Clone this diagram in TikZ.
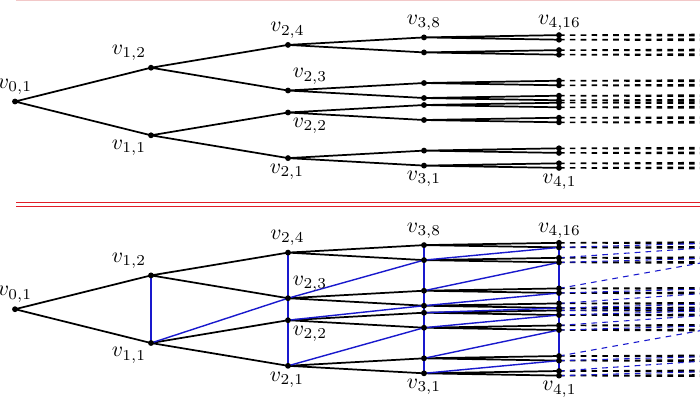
\documentclass[tikz,border=0pt]{standalone}
\usetikzlibrary{calc}
\definecolor{eblue}{RGB}{25,25,205}
\definecolor{ered}{RGB}{225,30,40}
\definecolor{epink}{RGB}{242,200,200}
\tikzset{
  edge/.style={black, line width=0.8pt},
  xedge/.style={eblue, line width=0.65pt},
  dedge/.style={black, line width=0.65pt, dash pattern=on 2.6pt off 2.4pt},
  dxedge/.style={eblue, line width=0.5pt, dash pattern=on 2.6pt off 2.4pt},
  dotn/.style={circle, fill=black, inner sep=0pt, minimum size=2.7pt},
  lbl/.style={inner sep=0pt},
  redline/.style={ered, line width=0.6pt},
}
\newcommand\mktree[2]{%
  \coordinate (#1-0-1) at (15,#2);
  \foreach \qa in {0,1} {
    \pgfmathsetmacro\ya{#2+(1-2*\qa)*33.8}
    \pgfmathtruncatemacro\ja{\qa+1}
    \coordinate (#1-1-\ja) at (151,\ya);
    \foreach \qb in {0,1} {
      \pgfmathsetmacro\yb{\ya+(1-2*\qb)*22.8}
      \pgfmathtruncatemacro\jb{2*\qa+\qb+1}
      \coordinate (#1-2-\jb) at (288,\yb);
      \foreach \qc in {0,1} {
        \pgfmathsetmacro\yc{\yb+(1-2*\qc)*7.5}
        \pgfmathtruncatemacro\jc{4*\qa+2*\qb+\qc+1}
        \coordinate (#1-3-\jc) at (424,\yc);
        \foreach \qd in {0,1} {
          \pgfmathsetmacro\yd{\yc+(1-2*\qd)*2.3}
          \pgfmathtruncatemacro\jd{8*\qa+4*\qb+2*\qc+\qd+1}
          \coordinate (#1-4-\jd) at (559,\yd);
          \foreach \qe in {0,1} {
            \pgfmathsetmacro\ye{\yd+(1-2*\qe)*0.7}
            \pgfmathtruncatemacro\je{2*\jd+\qe-1}
            \coordinate (#1-5-\je) at (700,\ye);
          }
        }
      }
    }
  }%
}
\newcommand\drawtreeedges[1]{%
  \foreach \k in {0,...,3} {
    \pgfmathtruncatemacro\nn{2^\k}
    \pgfmathtruncatemacro\kk{\k+1}
    \foreach \j in {1,...,\nn} {
      \pgfmathtruncatemacro\ca{2*\j-1}
      \pgfmathtruncatemacro\cb{2*\j}
      \draw[edge] (#1-\k-\j) -- (#1-\kk-\ca) (#1-\k-\j) -- (#1-\kk-\cb);
    }
  }
  \foreach \j in {1,...,16} {
    \pgfmathtruncatemacro\ca{2*\j-1}
    \pgfmathtruncatemacro\cb{2*\j}
    \draw[dedge] (#1-4-\j) -- (#1-5-\ca) (#1-4-\j) -- (#1-5-\cb);
  }%
}
\newcommand\drawtreedots[1]{%
  \foreach \k in {0,...,4} {
    \pgfmathtruncatemacro\nn{2^\k}
    \foreach \j in {1,...,\nn} {
      \node[dotn] (#1d-\k-\j) at (#1-\k-\j) {};
    }
  }%
}
\newcommand\drawtreelabels[1]{%
  \node[lbl] (#1l01) at ($(#1-0-1)+(0,-15)$) {$v_{0,1}$};
  \node[lbl] (#1l12) at ($(#1-1-2)+(-22,-14.7)$) {$v_{1,2}$};
  \node[lbl] (#1l11) at ($(#1-1-1)+(-22,12.2)$) {$v_{1,1}$};
  \node[lbl] (#1l24) at ($(#1-2-4)+(-0.5,-14.5)$) {$v_{2,4}$};
  \node[lbl] (#1l23) at ($(#1-2-3)+(22,-14.2)$) {$v_{2,3}$};
  \node[lbl] (#1l22) at ($(#1-2-2)+(22,13.5)$) {$v_{2,2}$};
  \node[lbl] (#1l21) at ($(#1-2-1)+(-1,13.7)$) {$v_{2,1}$};
  \node[lbl] (#1l38) at ($(#1-3-8)+(0,-14.5)$) {$v_{3,8}$};
  \node[lbl] (#1l31) at ($(#1-3-1)+(0,13.2)$) {$v_{3,1}$};
  \node[lbl] (#1l416) at ($(#1-4-16)+(0.5,-12)$) {$v_{4,16}$};
  \node[lbl] (#1l41) at ($(#1-4-1)+(0.5,13.6)$) {$v_{4,1}$};%
}
\begin{document}
\begin{tikzpicture}[x=0.4614pt, y=-0.4614pt]
\useasboundingbox (0,0) rectangle (700,410);
\clip (0,0) rectangle (700,410);
% separator lines
\coordinate (P1) at (16,0.7);
\coordinate (P2) at (700,0.7);
\draw[epink, line width=0.7pt] (P1) -- (P2);
\coordinate (R1) at (16,202.5);
\coordinate (R2) at (700,202.5);
\coordinate (R3) at (16,206.7);
\coordinate (R4) at (700,206.7);
\draw[redline] (R1) -- (R2);
\draw[redline] (R3) -- (R4);
% build trees
\mktree{T}{101.5}
\mktree{B}{309.2}
\drawtreeedges{T}
\drawtreeedges{B}
% blue cross edges (bottom tree)
\draw[xedge] (B-1-1) -- (B-1-2) (B-2-1) -- (B-2-4) (B-3-1) -- (B-3-8) (B-4-1) -- (B-4-16);
\foreach \k in {1,2,3} {
  \pgfmathtruncatemacro\mm{2^\k-1}
  \pgfmathtruncatemacro\kk{\k+1}
  \foreach \j in {1,...,\mm} {
    \pgfmathtruncatemacro\tt{2*\j+1}
    \draw[xedge] (B-\k-\j) -- (B-\kk-\tt);
  }
}
\foreach \j in {1,...,15} {
  \pgfmathtruncatemacro\tt{2*\j+1}
  \draw[dxedge] (B-4-\j) -- (B-5-\tt);
}
\drawtreedots{T}
\drawtreedots{B}
\drawtreelabels{T}
\drawtreelabels{B}
\end{tikzpicture}
\end{document}
